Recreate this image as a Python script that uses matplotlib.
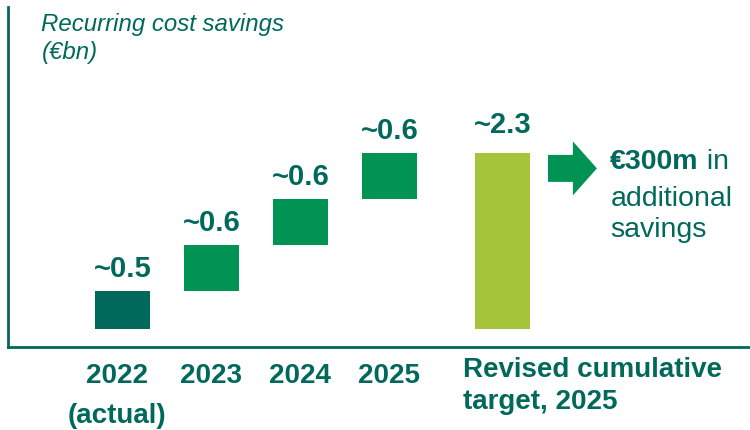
import matplotlib.pyplot as plt
import numpy as np
from matplotlib.patches import FancyArrow

plt.rcParams['font.family'] = ['Liberation Sans', 'DejaVu Sans']

# data
years = ['2022\n(actual)', '2023', '2024', '2025']
savings = [0.5, 0.6, 0.6, 0.6]
value_labels = ['~0.5', '~0.6', '~0.6', '~0.6']
total = 2.3
total_label = '~2.3'
total_name = 'Revised cumulative\ntarget, 2025'

TEAL = '#00695C'
GREEN = '#009354'
LIME = '#A6C43A'


def main():
    fig = plt.figure(figsize=(7.5, 4.3), dpi=100)
    ax = fig.add_axes([8 / 750, 83 / 430, 742 / 750, 340 / 430])

    x = np.arange(len(savings))
    x_total = 4.27
    bottoms = np.concatenate([[0], np.cumsum(savings)[:-1]])
    colors = [TEAL] + [GREEN] * (len(savings) - 1)

    ax.bar(x, savings, bottom=bottoms, width=0.62, color=colors)
    ax.bar([x_total], [total], width=0.62, color=LIME)

    for xi, b, v, lab in zip(x, bottoms, savings, value_labels):
        ax.annotate(lab, (xi, b + v), xytext=(0, 16), textcoords='offset points',
                    ha='center', va='center', fontsize=21, fontweight='bold', color=TEAL)
    ax.annotate(total_label, (x_total, total), xytext=(0, 20), textcoords='offset points',
                ha='center', va='center', fontsize=21, fontweight='bold', color=TEAL)

    # category labels below the axis
    for xi, name in zip(x, years):
        for i, line in enumerate(name.split('\n')):
            ax.text(xi - 0.06 + 0.05 * (xi > 0), -0.61 - 0.523 * i, line,
                    ha='center', va='center', fontsize=20,
                    fontweight='bold', color=TEAL, clip_on=False)
    for i, line in enumerate(total_name.split('\n')):
        ax.text(x_total - 0.44, -0.54 - 0.42 * i, line, ha='left', va='center',
                fontsize=20, fontweight='bold', color=TEAL, clip_on=False)

    # arrow and note
    ax.add_patch(FancyArrow(4.78, 2.10, 0.55, 0, width=0.353, head_width=0.706,
                            head_length=0.27, length_includes_head=True,
                            color=GREEN, lw=0))
    t = ax.text(5.48, 2.19, '€300m', ha='left', va='center', fontsize=20.5,
                fontweight='bold', color=TEAL)
    ax.annotate(' in', xy=(1, 0), xycoords=t, ha='left', va='bottom',
                fontsize=20.5, color=TEAL)
    ax.text(5.48, 1.70, 'additional', ha='left', va='center', fontsize=20.5, color=TEAL)
    ax.text(5.48, 1.29, 'savings', ha='left', va='center', fontsize=20.5, color=TEAL)

    ax.text(0.045, (347 - 25) / 340, 'Recurring cost savings', transform=ax.transAxes,
            ha='left', va='center', fontsize=17.3, fontstyle='italic', color=TEAL)
    ax.text(0.045, (347 - 52) / 340, '(€bn)', transform=ax.transAxes,
            ha='left', va='center', fontsize=17.3, fontstyle='italic', color=TEAL)

    ax.set_xlim(-1.287, 7.05)
    ax.set_ylim(-0.235, 4.21)
    ax.set_xticks([])
    ax.set_yticks([])
    for side in ['top', 'right']:
        ax.spines[side].set_visible(False)
    for side in ['left', 'bottom']:
        ax.spines[side].set_color(TEAL)
        ax.spines[side].set_linewidth(2)

    fig.savefig('out.png', dpi=100)


if __name__ == "__main__":
    main()
